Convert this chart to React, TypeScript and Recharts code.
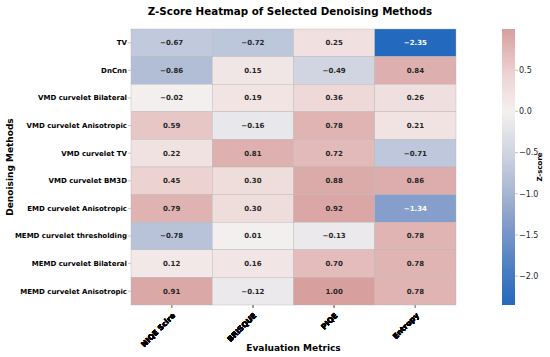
import React from 'react';
import { ScatterChart, Scatter, XAxis, YAxis, ComposedChart, ReferenceArea, Label } from 'recharts';

const methods = [
  'TV',
  'DnCnn',
  'VMD curvelet Bilateral',
  'VMD curvelet Anisotropic',
  'VMD curvelet TV',
  'VMD curvelet BM3D',
  'EMD curvelet Anisotropic',
  'MEMD curvelet thresholding',
  'MEMD curvelet Bilateral',
  'MEMD curvelet Anisotropic',
];
const metrics = ['NIQE Scire', 'BRISQUE', 'PIQE', 'Entropy'];

const niqeScire = [-0.67, -0.86, -0.02, 0.59, 0.22, 0.45, 0.79, -0.78, 0.12, 0.91];
const brisque = [-0.72, 0.15, 0.19, -0.16, 0.81, 0.3, 0.3, 0.01, 0.16, -0.12];
const piqe = [0.25, -0.49, 0.36, 0.78, 0.72, 0.88, 0.92, -0.13, 0.7, 1.0];
const entropy = [-2.35, 0.84, 0.26, 0.21, -0.71, 0.86, -1.34, 0.78, 0.78, 0.78];

const colorbarTicks = [0.5, 0, -0.5, -1, -1.5, -2];

const seriesByMetric = [niqeScire, brisque, piqe, entropy];
const cells = methods.flatMap((m, i) =>
  metrics.map((k, j) => ({ method: m, metric: k, value: seriesByMetric[j][i] }))
);

// layout
const W = 550;
const H = 357;
const PLOT_L = 131;
const PLOT_R = 456;
const PLOT_T = 29;
const PLOT_B = 305;
const CELL_W = (PLOT_R - PLOT_L) / metrics.length;
const CELL_H = (PLOT_B - PLOT_T) / methods.length;
const FONT = 'DejaVu Sans, sans-serif';

// vlag-like diverging colormap stops
const VLAG: [number, number[]][] = [
  [0.0, [35, 105, 189]],
  [0.1, [78, 128, 195]],
  [0.2, [127, 153, 201]],
  [0.3, [171, 185, 212]],
  [0.4, [210, 214, 226]],
  [0.5, [244, 240, 240]],
  [0.6, [236, 210, 209]],
  [0.7, [217, 165, 164]],
  [0.8, [200, 122, 122]],
  [0.9, [184, 88, 90]],
  [1.0, [169, 55, 59]],
];

const allVals = seriesByMetric.flat();
const VMIN = Math.min(...allVals);
const VMAX = Math.max(...allVals);
const CENTER = 0;
const VRANGE = Math.max(VMAX - CENTER, CENTER - VMIN);

function rgbAt(t: number): number[] {
  const tt = Math.max(0, Math.min(1, t));
  for (let i = 0; i < VLAG.length - 1; i++) {
    const [p0, c0] = VLAG[i];
    const [p1, c1] = VLAG[i + 1];
    if (tt >= p0 && tt <= p1) {
      const f = (tt - p0) / (p1 - p0);
      return c0.map((c, k) => c + (c1[k] - c) * f);
    }
  }
  return VLAG[VLAG.length - 1][1];
}
function rgbFor(v: number): number[] {
  return rgbAt((v - (CENTER - VRANGE)) / (2 * VRANGE));
}
function toHex(c: number[]): string {
  return '#' + c.map((x) => Math.round(x).toString(16).padStart(2, '0')).join('');
}
function textColorFor(c: number[]): string {
  const lin = c.map((x) => {
    const s = x / 255;
    return s <= 0.03928 ? s / 12.92 : Math.pow((s + 0.055) / 1.055, 2.4);
  });
  const lum = 0.2126 * lin[0] + 0.7152 * lin[1] + 0.0722 * lin[2];
  return lum > 0.408 ? '#262626' : '#ffffff';
}
const fmt = (v: number, d: number) => v.toFixed(d).replace('-', '\u2212');

const HeatCell = (props: any) => {
  const { cx, cy, payload } = props;
  if (cx == null || cy == null || !payload) return null;
  const rgb = rgbFor(payload.value);
  return (
    <g>
      <rect
        x={cx - CELL_W / 2}
        y={cy - CELL_H / 2}
        width={CELL_W}
        height={CELL_H}
        fill={toHex(rgb)}
        stroke="#b4b4b4"
        strokeWidth={0.4}
      />
      <text
        x={cx}
        y={cy}
        dy="0.35em"
        textAnchor="middle"
        fontSize={7}
        fontWeight="bold"
        fontFamily={FONT}
        fill={textColorFor(rgb)}
      >
        {fmt(payload.value, 2)}
      </text>
    </g>
  );
};

const YTick = (props: any) => {
  const { x, y, payload } = props;
  return (
    <text x={x} y={y} dy="0.35em" textAnchor="end" fontSize={7} fontWeight="bold" fontFamily={FONT} fill="#000">
      {payload.value}
    </text>
  );
};

const XTick = (props: any) => {
  const { x, y, payload } = props;
  const ax = x + 4;
  const ay = y + 6;
  return (
    <text
      x={ax}
      y={ay}
      textAnchor="end"
      transform={`rotate(-45, ${ax}, ${ay})`}
      fontSize={7.5}
      fontWeight="bold"
      fontFamily={FONT}
      fill="#000"
    >
      {payload.value}
    </text>
  );
};

const gradStops = Array.from({ length: 41 }, (_, i) => {
  const f = i / 40;
  const v = VMAX - (VMAX - VMIN) * f;
  return <stop key={i} offset={`${f * 100}%`} stopColor={toHex(rgbFor(v))} />;
});

export default function App() {
  return (
    <div
      style={{
        position: 'fixed',
        left: 0,
        top: 0,
        width: W,
        height: H,
        background: '#fff',
        fontFamily: FONT,
        overflow: 'hidden',
      }}
    >
      <div
        style={{
          position: 'absolute',
          left: 0,
          width: 580,
          top: 4,
          textAlign: 'center',
          fontSize: 10.3,
          fontWeight: 'bold',
          color: '#000',
          fontFamily: FONT,
          lineHeight: '14px',
          whiteSpace: 'nowrap',
        }}
      >
        Z-Score Heatmap of Selected Denoising Methods
      </div>
      <div style={{ position: 'absolute', left: 0, top: 0 }}>
        <ScatterChart
          width={W}
          height={H}
          margin={{ top: PLOT_T, right: W - PLOT_R, bottom: 0, left: 0 }}
        >
          <XAxis
            type="category"
            dataKey="metric"
            allowDuplicatedCategory={false}
            scale="band"
            height={H - PLOT_B}
            axisLine={false}
            tickLine={{ stroke: '#9a9a9a', strokeWidth: 0.6 }}
            tickSize={3}
            tick={<XTick />}
            interval={0}
          >
            <Label
              content={(p: any) => {
                const vb = p.viewBox;
                return (
                  <text
                    x={vb.x + vb.width / 2}
                    y={351}
                    textAnchor="middle"
                    fontSize={9}
                    fontWeight="bold"
                    fontFamily={FONT}
                    fill="#000"
                  >
                    Evaluation Metrics
                  </text>
                );
              }}
            />
          </XAxis>
          <YAxis
            type="category"
            dataKey="method"
            allowDuplicatedCategory={false}
            scale="band"
            reversed
            width={PLOT_L}
            axisLine={false}
            tickLine={{ stroke: '#9a9a9a', strokeWidth: 0.6 }}
            tickSize={3}
            tickMargin={1}
            tick={<YTick />}
            interval={0}
          >
            <Label
              content={(p: any) => {
                const vb = p.viewBox;
                const cy = vb.y + vb.height / 2;
                return (
                  <text
                    x={12.5}
                    y={cy}
                    textAnchor="middle"
                    transform={`rotate(-90, 12.5, ${cy})`}
                    fontSize={9}
                    fontWeight="bold"
                    fontFamily={FONT}
                    fill="#000"
                  >
                    Denoising Methods
                  </text>
                );
              }}
            />
          </YAxis>
          <Scatter data={cells} shape={<HeatCell />} isAnimationActive={false} />
        </ScatterChart>
      </div>
      <div style={{ position: 'absolute', left: 502, top: 0 }}>
        <ComposedChart
          width={48}
          height={H}
          data={[{ x: 0 }, { x: 1 }]}
          margin={{ top: PLOT_T, right: 0, bottom: H - PLOT_B, left: 0 }}
        >
          <defs>
            <linearGradient id="cbGrad" x1="0" y1="0" x2="0" y2="1">
              {gradStops}
            </linearGradient>
          </defs>
          <XAxis type="number" dataKey="x" domain={[0, 1]} hide />
          <YAxis
            type="number"
            orientation="right"
            domain={[VMIN, VMAX]}
            ticks={colorbarTicks}
            allowDataOverflow
            width={35}
            axisLine={false}
            tickLine={{ stroke: '#9a9a9a', strokeWidth: 0.6 }}
            tickSize={3}
            tickMargin={1}
            tickFormatter={(v: number) => fmt(v, 1)}
            tick={{ fontSize: 8, fill: '#262626', fontFamily: FONT }}
          >
            <Label
              content={(p: any) => {
                const vb = p.viewBox;
                const cy = vb.y + vb.height / 2;
                const lx = vb.x + 27;
                return (
                  <text
                    x={lx}
                    y={cy}
                    textAnchor="middle"
                    transform={`rotate(-90, ${lx}, ${cy})`}
                    fontSize={7}
                    fontWeight="bold"
                    fontFamily={FONT}
                    fill="#000"
                  >
                    Z-score
                  </text>
                );
              }}
            />
          </YAxis>
          <ReferenceArea
            x1={0}
            x2={1}
            y1={VMIN}
            y2={VMAX}
            fill="url(#cbGrad)"
            fillOpacity={1}
            stroke="none"
            ifOverflow="visible"
          />
        </ComposedChart>
      </div>
    </div>
  );
}
